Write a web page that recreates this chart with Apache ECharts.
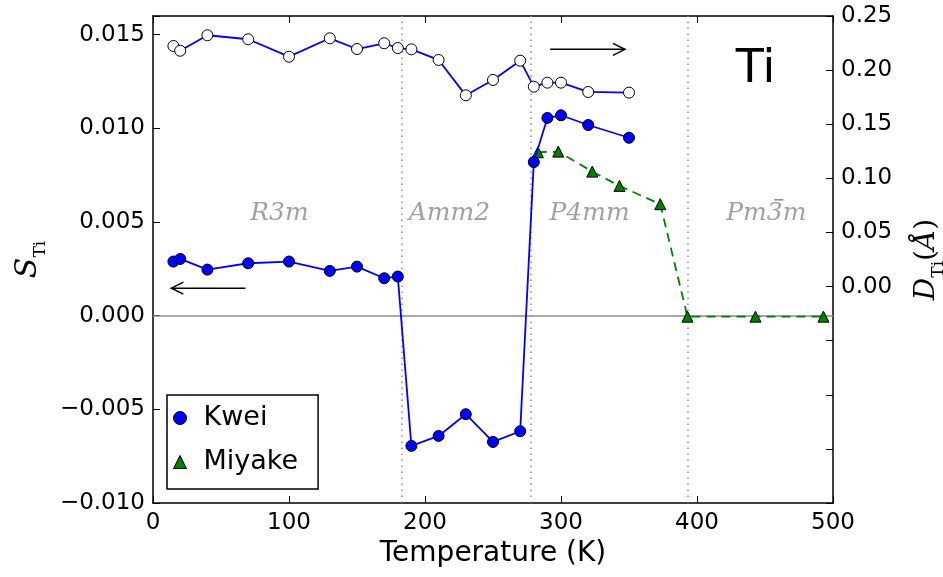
<!DOCTYPE html>
<html>
<head>
<meta charset="utf-8">
<script src="https://cdn.jsdelivr.net/npm/echarts@6/dist/echarts.min.js"></script>
<style>
  html, body { margin: 0; padding: 0; background: #fff; }
  #main { width: 943px; height: 577px; }
</style>
</head>
<body>
<div id="main"></div>
<script>
// temperatures of the Kwei points (K)
var kweiTemp = [15, 20, 40, 70, 100, 130, 150, 170, 180, 190, 210, 230, 250, 270, 280, 290, 300, 320, 350];
// S_Ti (filled circles, left axis)
var kweiS = [0.00289, 0.00303, 0.00246, 0.00280, 0.00289, 0.00239, 0.00262, 0.00200, 0.00209,
  -0.00695, -0.00642, -0.00526, -0.00674, -0.00617,
  0.00820, 0.01056, 0.01070, 0.01018, 0.00950];
// D_Ti (open circles, right axis)
var kweiD = [0.2223, 0.2179, 0.2322, 0.2285, 0.2124, 0.2294, 0.2195, 0.2248, 0.2204, 0.2192,
  0.2094, 0.1767, 0.1909, 0.2087, 0.1847, 0.1884, 0.1884, 0.1798, 0.1792];
// Miyake (triangles, right axis)
var miyakeTemp = [283, 298, 323, 343, 373, 393, 443, 493];
var miyakeD = [0.1241, 0.1247, 0.1062, 0.0930, 0.0761, -0.0278, -0.0278, -0.0278];
// phase boundaries and phase names
var phaseBounds = [183, 278, 393];
var phaseNames = ['R3m', 'Amm2', 'P4mm', 'Pm3m'];
var phaseLabelT = [93, 218, 321, 451];
var phaseLabelS = 0.00544;
// x ticks
var tempMin = 0, tempMax = 500, tempStep = 100;

var chart = echarts.init(document.getElementById('main'), null, {renderer: 'canvas'});

function zip(a, b) {
  var out = [];
  for (var i = 0; i < a.length; i++) out.push([a[i], b[i]]);
  return out;
}

var sans = 'DejaVu Sans';
var serif = 'DejaVu Serif';
var axisLineStyle = {color: '#000', width: 1.5};

var markLines = [{yAxis: 0, lineStyle: {color: '#8c8c8c', width: 1.5, type: 'solid'}}];
for (var i = 0; i < phaseBounds.length; i++) {
  markLines.push({xAxis: phaseBounds[i], lineStyle: {color: '#8c8c8c', width: 1.5, type: [1.5, 4.5]}});
}

var phaseData = [];
for (var j = 0; j < phaseNames.length; j++) {
  phaseData.push([phaseLabelT[j], phaseLabelS, phaseNames[j]]);
}

var option = {
  animation: false,
  backgroundColor: '#fff',
  grid: {left: 153, right: 110, top: 16, bottom: 74, containLabel: false, outerBoundsMode: 'none'},
  legend: {
    orient: 'vertical',
    left: 167,
    top: 395,
    padding: [8, 20, 12, 6],
    borderColor: '#000',
    borderWidth: 1.5,
    itemWidth: 13,
    itemHeight: 13,
    itemGap: 14,
    textStyle: {fontFamily: sans, fontSize: 27, color: '#000', lineHeight: 30, padding: [0, 0, 0, 12]},
    data: [
      {name: 'Kwei', icon: 'circle', itemStyle: {color: '#0000ff', borderColor: '#000', borderWidth: 1}},
      {name: 'Miyake', icon: 'triangle', itemStyle: {color: '#008000', borderColor: '#000', borderWidth: 1}}
    ]
  },
  xAxis: [{
    type: 'value',
    min: tempMin, max: tempMax, interval: tempStep,
    position: 'bottom',
    axisLine: {show: true, onZero: false, lineStyle: axisLineStyle},
    axisTick: {show: true, inside: true, length: 7, lineStyle: {color: '#000', width: 1}},
    axisLabel: {color: '#000', fontFamily: sans, fontSize: 23, margin: 9},
    splitLine: {show: false},
    name: 'Temperature (K)',
    nameLocation: 'middle',
    nameGap: 35,
    nameTextStyle: {color: '#000', fontFamily: sans, fontSize: 28}
  }, {
    type: 'value',
    min: tempMin, max: tempMax, interval: tempStep,
    position: 'top',
    axisLine: {show: true, onZero: false, lineStyle: axisLineStyle},
    axisTick: {show: true, inside: true, length: 7, lineStyle: {color: '#000', width: 1}},
    axisLabel: {show: false},
    splitLine: {show: false}
  }],
  yAxis: [{
    type: 'value',
    min: -0.010, max: 0.016, interval: 0.005,
    position: 'left',
    axisLine: {show: true, onZero: false, lineStyle: axisLineStyle},
    axisTick: {show: true, inside: true, length: 7, lineStyle: {color: '#000', width: 1}},
    axisLabel: {
      color: '#000', fontFamily: sans, fontSize: 23, margin: 8,
      formatter: function (v) {
        if (Math.abs(v * 200 - Math.round(v * 200)) > 1e-6) return '';
        var s = Math.abs(v) < 1e-9 ? '0.000' : v.toFixed(3);
        return s.replace('-', '\u2212');
      }
    },
    splitLine: {show: false},
    name: '{s|S}{t|Ti}',
    nameLocation: 'middle',
    nameRotate: 90,
    nameGap: 104,
    nameTextStyle: {
      rich: {
        s: {fontFamily: serif, fontStyle: 'italic', fontSize: 30, color: '#000', verticalAlign: 'bottom', padding: [0, 0, 6, 0]},
        t: {fontFamily: serif, fontSize: 17, color: '#000', verticalAlign: 'bottom'}
      }
    }
  }, {
    type: 'value',
    min: -0.20, max: 0.25, interval: 0.05,
    position: 'right',
    axisLine: {show: true, onZero: false, lineStyle: axisLineStyle},
    axisTick: {show: true, inside: true, length: 7, lineStyle: {color: '#000', width: 1}},
    axisLabel: {
      color: '#000', fontFamily: sans, fontSize: 23, margin: 8,
      formatter: function (v) {
        if (v < -1e-9) return '';
        return Math.abs(v) < 1e-9 ? '0.00' : v.toFixed(2);
      }
    },
    splitLine: {show: false},
    name: '{s|D}{t|Ti}{p|(}{s|\u00C5}{p|)}',
    nameLocation: 'middle',
    nameRotate: 90,
    nameGap: 80,
    nameTextStyle: {
      rich: {
        s: {fontFamily: serif, fontStyle: 'italic', fontSize: 28, color: '#000', verticalAlign: 'bottom', padding: [0, 0, 6, 0]},
        t: {fontFamily: serif, fontSize: 17, color: '#000', verticalAlign: 'bottom'},
        p: {fontFamily: serif, fontSize: 28, color: '#000', verticalAlign: 'bottom', padding: [0, 0, 6, 0]}
      }
    }
  }],
  series: [{
    name: 'Miyake',
    type: 'line',
    xAxisIndex: 0, yAxisIndex: 1,
    data: zip(miyakeTemp, miyakeD),
    symbol: 'triangle',
    symbolSize: 11,
    itemStyle: {color: '#008000', borderColor: '#000', borderWidth: 1},
    lineStyle: {color: '#008000', width: 1.8, type: [9, 6]},
    z: 3
  }, {
    name: 'KweiD',
    type: 'line',
    xAxisIndex: 0, yAxisIndex: 1,
    data: zip(kweiTemp, kweiD),
    symbol: 'circle',
    symbolSize: 11,
    itemStyle: {color: '#fff', borderColor: '#000', borderWidth: 1},
    lineStyle: {color: '#0000ff', width: 1.8},
    z: 4
  }, {
    name: 'Kwei',
    type: 'line',
    xAxisIndex: 0, yAxisIndex: 0,
    data: zip(kweiTemp, kweiS),
    symbol: 'circle',
    symbolSize: 11,
    itemStyle: {color: '#0000ff', borderColor: '#000', borderWidth: 1},
    lineStyle: {color: '#0000ff', width: 1.8},
    z: 5,
    markLine: {
      silent: true,
      symbol: ['none', 'none'],
      label: {show: false},
      data: markLines,
      z: 1
    }
  }, {
    name: 'phases',
    type: 'scatter',
    xAxisIndex: 0, yAxisIndex: 0,
    data: phaseData,
    symbolSize: 0,
    silent: true,
    label: {
      show: true,
      position: 'inside',
      formatter: function (p) { return p.data[2]; },
      fontFamily: serif, fontStyle: 'italic', fontSize: 25, color: '#8a8a8a'
    }
  }]
};

chart.setOption(option);

// direction arrows (which axis each curve belongs to), the bar of Pm-3m and the "Ti" tag
function arrow(p0, p1) {
  var dir = p1[0] > p0[0] ? 1 : -1;
  var tip = p1;
  return [{
    type: 'polyline',
    shape: {points: [p0, p1]},
    style: {stroke: '#000', lineWidth: 1.5, fill: null},
    z: 10
  }, {
    type: 'polyline',
    shape: {points: [[tip[0] - dir * 12, tip[1] - 6], tip, [tip[0] - dir * 12, tip[1] + 6]]},
    style: {stroke: '#000', lineWidth: 1.5, fill: null},
    z: 10
  }];
}

var leftA = chart.convertToPixel({xAxisIndex: 0, yAxisIndex: 0}, [68, 0.00147]);
var leftB = chart.convertToPixel({xAxisIndex: 0, yAxisIndex: 0}, [13.5, 0.00147]);
var rightA = chart.convertToPixel({xAxisIndex: 0, yAxisIndex: 1}, [292, 0.2192]);
var rightB = chart.convertToPixel({xAxisIndex: 0, yAxisIndex: 1}, [347, 0.2192]);
var tiPos = chart.convertToPixel({xAxisIndex: 0, yAxisIndex: 1}, [443, 0.2]);
var cubic = chart.convertToPixel({xAxisIndex: 0, yAxisIndex: 0}, [phaseLabelT[3], phaseLabelS]);

var graphics = arrow(leftA, leftB).concat(arrow(rightA, rightB));
graphics.push({
  type: 'line',
  shape: {x1: cubic[0] + 8, y1: cubic[1] - 14, x2: cubic[0] + 17, y2: cubic[1] - 14},
  style: {stroke: '#8a8a8a', lineWidth: 1.5},
  z: 10
});
graphics.push({
  type: 'text',
  x: tiPos[0], y: tiPos[1],
  style: {text: 'Ti', fontFamily: sans, fontSize: 46, fill: '#000', align: 'center', verticalAlign: 'middle'},
  z: 10
});
chart.setOption({graphic: graphics});
</script>
</body>
</html>
